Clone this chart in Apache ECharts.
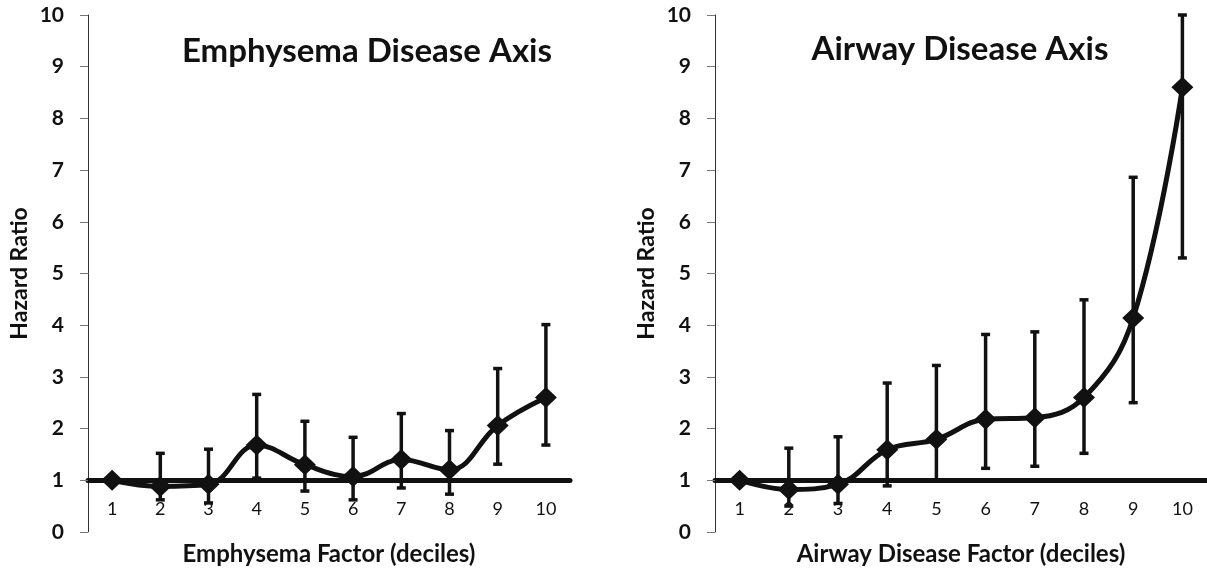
<!DOCTYPE html>
<html>
<head>
<meta charset="utf-8">
<script src="https://cdn.jsdelivr.net/npm/echarts@6/dist/echarts.min.js"></script>
<style>
html,body{margin:0;padding:0;background:#fff;}
#c{width:1207px;height:571px;}
</style>
</head>
<body>
<div id="c"></div>
<script>
const categories = ['1','2','3','4','5','6','7','8','9','10'];
const yTicks = [0,1,2,3,4,5,6,7,8,9,10];

const emphHR    = [1.0, 0.88, 0.92, 1.68, 1.30, 1.07, 1.40, 1.20, 2.06, 2.60];
const emphLower = [null, 0.62, 0.56, 1.04, 0.79, 0.62, 0.85, 0.73, 1.31, 1.68];
const emphUpper = [null, 1.52, 1.60, 2.66, 2.14, 1.83, 2.29, 1.96, 3.16, 4.01];

const airHR     = [1.0, 0.82, 0.92, 1.59, 1.79, 2.18, 2.21, 2.60, 4.14, 8.60];
const airLower  = [null, 0.50, 0.55, 0.89, 1.00, 1.23, 1.27, 1.52, 2.50, 5.30];
const airUpper  = [null, 1.62, 1.84, 2.88, 3.22, 3.82, 3.87, 4.49, 6.86, 10.0];

const FONT = 'Lato, "Open Sans", sans-serif';
const INK = '#111';

function errData(lo, hi) {
  const out = [];
  for (let i = 0; i < lo.length; i++) {
    if (lo[i] != null && hi[i] != null) out.push([i, lo[i], hi[i]]);
  }
  return out;
}

function errRender(params, api) {
  const x = api.value(0);
  const p1 = api.coord([x, api.value(1)]);
  const p2 = api.coord([x, api.value(2)]);
  const w = 4.5;
  const st = {stroke: INK, lineWidth: 3.5};
  return {
    type: 'group',
    children: [
      {type: 'line', shape: {x1: p1[0], y1: p1[1], x2: p2[0], y2: p2[1]}, style: st},
      {type: 'line', shape: {x1: p1[0]-w, y1: p1[1], x2: p1[0]+w, y2: p1[1]}, style: st},
      {type: 'line', shape: {x1: p2[0]-w, y1: p2[1], x2: p2[0]+w, y2: p2[1]}, style: st}
    ]
  };
}

function xAxisCfg(idx, name) {
  return {
    type: 'category', gridIndex: idx, data: categories,
    offset: -51.9,
    axisLine: {show: true, onZero: false, lineStyle: {color: INK, width: 5}},
    axisTick: {show: false},
    axisLabel: {color: INK, fontFamily: FONT, fontSize: 18, margin: 20},
    name: name, nameLocation: 'middle', nameGap: 62,
    nameTextStyle: {color: INK, fontFamily: FONT, fontSize: 24, fontWeight: 'bold'}
  };
}
function yAxisCfg(idx) {
  return {
    type: 'value', gridIndex: idx, min: yTicks[0], max: yTicks[yTicks.length-1], interval: 1,
    axisLine: {show: true, lineStyle: {color: '#333', width: 1}},
    axisTick: {show: true, inside: false, length: 8, lineStyle: {color: '#777'}},
    splitLine: {show: false},
    axisLabel: {color: INK, fontFamily: FONT, fontSize: 21, fontWeight: 'bold', margin: 24},
    name: 'Hazard Ratio', nameLocation: 'middle', nameGap: 57,
    nameTextStyle: {color: INK, fontFamily: FONT, fontSize: 23, fontWeight: 'bold'}
  };
}
function lineSeries(idx, data) {
  return {
    type: 'line', xAxisIndex: idx, yAxisIndex: idx, data: data, smooth: 0.4,
    symbol: 'diamond', symbolSize: [22, 21],
    lineStyle: {color: INK, width: 5},
    itemStyle: {color: INK},
    z: 5, animation: false
  };
}
function errSeries(idx, lo, hi) {
  return {
    type: 'custom', xAxisIndex: idx, yAxisIndex: idx, data: errData(lo, hi),
    renderItem: errRender, z: 3, animation: false, clip: false
  };
}

const chart = echarts.init(document.getElementById('c'), null, {renderer: 'canvas'});
chart.setOption({
  backgroundColor: '#fff',
  animation: false,
  title: [
    {text: 'Emphysema Disease Axis', left: 362, top: 30, textAlign: 'center',
     textStyle: {color: INK, fontFamily: FONT, fontSize: 33, fontWeight: 'bold'}},
    {text: 'Airway Disease Axis', left: 955, top: 28, textAlign: 'center',
     textStyle: {color: INK, fontFamily: FONT, fontSize: 33, fontWeight: 'bold'}}
  ],
  grid: [
    {left: 88, top: 15, width: 482, height: 519},
    {left: 715, top: 15, width: 492, height: 519}
  ],
  xAxis: [xAxisCfg(0, 'Emphysema Factor (deciles)'), xAxisCfg(1, 'Airway Disease Factor (deciles)')],
  yAxis: [yAxisCfg(0), yAxisCfg(1)],
  series: [
    errSeries(0, emphLower, emphUpper),
    lineSeries(0, emphHR),
    errSeries(1, airLower, airUpper),
    lineSeries(1, airHR)
  ]
});
</script>
</body>
</html>
